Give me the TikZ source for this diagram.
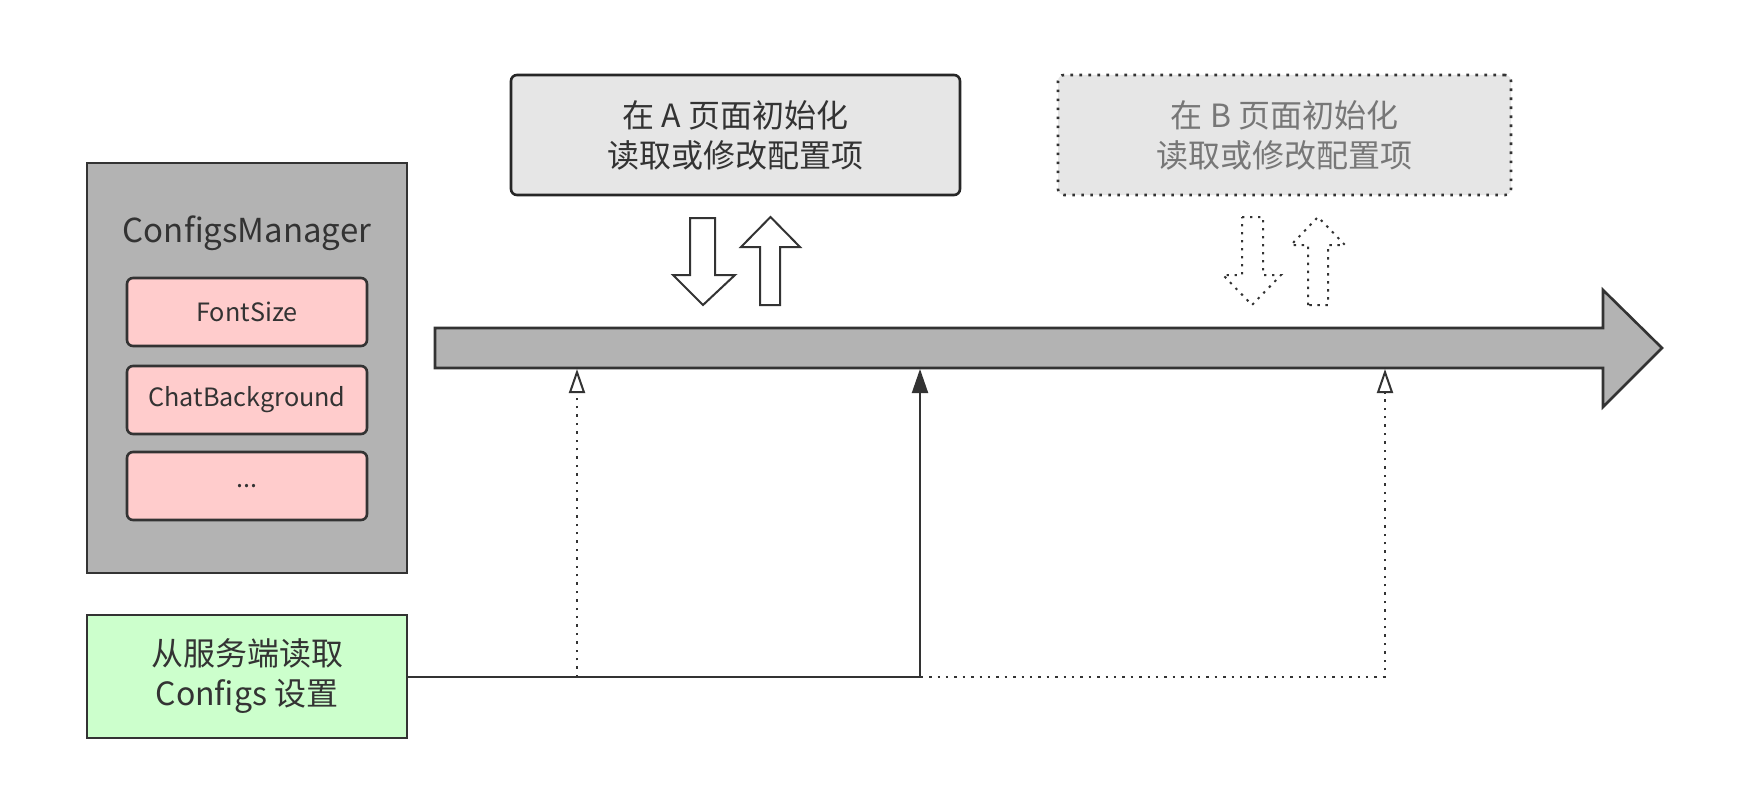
\documentclass[tikz,border=0pt]{standalone}
\usepackage{fontspec}
\setmainfont{Noto Sans CJK SC}
\usetikzlibrary{arrows.meta}
\definecolor{strokegray}{HTML}{333333}
\definecolor{boxgray}{HTML}{B3B3B3}
\definecolor{pagegray}{HTML}{E6E6E6}
\definecolor{itempink}{HTML}{FFCCCC}
\definecolor{srvgreen}{HTML}{CCFFCC}
\definecolor{fadetext}{HTML}{777777}
\begin{document}
\begin{tikzpicture}[x=0.5pt, y=-0.5pt,
        container/.style={rectangle,draw=strokegray,line width=1.3pt,fill=boxgray,
      minimum width=160pt,minimum height=205pt,inner sep=0pt},
        item/.style={rectangle,rounded corners=3pt,draw=strokegray,line width=1.3pt,
      fill=itempink,minimum width=120pt,minimum height=34pt,inner sep=0pt,
      font=\fontsize{12.6pt}{15pt}\selectfont,text=strokegray},
        page/.style={rectangle,rounded corners=3pt,fill=pagegray,minimum height=60pt,
      align=center,inner sep=0pt,font=\fontsize{16pt}{20pt}\selectfont},
        activepage/.style={page,draw=black!85,line width=1.3pt,text=strokegray},
        futurepage/.style={page,draw=strokegray,line width=1.3pt,
      dash pattern=on 1.3pt off 3.2pt,text=fadetext},
        server/.style={rectangle,draw=strokegray,line width=1.3pt,fill=srvgreen,
      minimum width=160pt,minimum height=61.5pt,align=center,inner sep=0pt,
      font=\fontsize{16pt}{20pt}\selectfont,text=strokegray},
        blockarrow/.style={draw=strokegray,line width=1pt,fill=white,line join=miter},
        dottedarrow/.style={blockarrow,dash pattern=on 1.2pt off 2.8pt},
        timeline/.style={draw=strokegray,line width=1.3pt,fill=boxgray},
        readdone/.style={draw=strokegray,line width=1pt,
      -{Triangle[length=12pt,width=8pt]}},
        readlater/.style={draw=strokegray,line width=1pt,dash pattern=on 1.2pt off 3pt,
      -{Triangle[open,length=12pt,width=8pt]}}]

	\useasboundingbox [fill=white] (0, 0) rectangle (1746, 808);

	\node [container] (mgr) at (247, 368) {};
        \node [font=\fontsize{16.5pt}{19pt}\selectfont,text=strokegray] (mgrtitle) at (247, 233) {ConfigsManager};
        \node [item] (fontsize) at (247, 312) {FontSize};
        \node [item] (chatbg) at (247, 400) {ChatBackground};
        \node [item] (more) at (247, 486) {...};

        \node [server] (srv) at (247, 676.5) {从服务端读取\\Configs 设置};

        \node [activepage, minimum width=224.5pt] (pageA) at (735.5, 135) {在 A 页面初始化\\读取或修改配置项};
        \node [futurepage, minimum width=226.5pt] (pageB) at (1284.5, 135) {在 B 页面初始化\\读取或修改配置项};

        \draw [blockarrow] (690, 218) -- (715, 218) -- (715, 275) -- (735, 275) -- (703, 305)
              -- (673, 275) -- (690, 275) -- cycle;
        \draw [blockarrow] (760, 305) -- (760, 247) -- (741, 247) -- (770.5, 217) -- (800, 247)
              -- (780, 247) -- (780, 305) -- cycle;
        \draw [dottedarrow] (1242, 217) -- (1263, 217) -- (1263, 275) -- (1281, 275) -- (1252, 305)
              -- (1223, 275) -- (1242, 275) -- cycle;
        \draw [dottedarrow] (1308, 305) -- (1308, 245) -- (1291, 245) -- (1318, 217) -- (1345, 245)
              -- (1328, 245) -- (1328, 305) -- cycle;

        \draw [timeline] (435, 328) -- (1603, 328) -- (1603, 290) -- (1662, 348) -- (1603, 407)
              -- (1603, 368) -- (435, 368) -- cycle;
        \coordinate (hitA) at (577, 369);
        \coordinate (hitNow) at (920, 369);
        \coordinate (hitB) at (1385, 369);

        \draw [readlater] (srv) -| (hitA);
        \draw [readlater] (srv) -| (hitB);
        \draw [readdone] (srv) -| (hitNow);
\end{tikzpicture}
\end{document}
